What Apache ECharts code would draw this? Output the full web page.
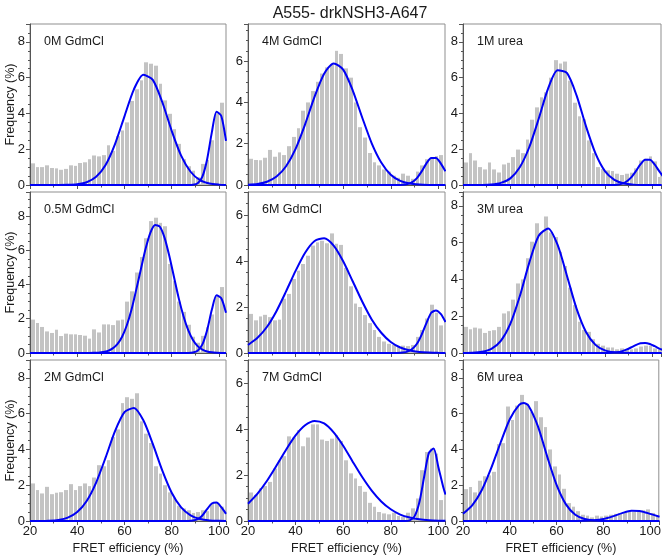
<!DOCTYPE html>
<html><head><meta charset="utf-8">
<script src="https://cdn.jsdelivr.net/npm/echarts@6/dist/echarts.min.js"></script>
<style>html,body{margin:0;padding:0;background:#fff}#c{width:664px;height:556px}</style>
</head><body><div id="c"></div>
<script>
// ---------------- DATA ----------------
const chartTitle = 'A555- drkNSH3-A647';
const xAxisName = 'FRET efficiency (%)';
const yAxisName = 'Frequency (%)';
const binWidth = 2;
const binLeft = [20,22,24,26,28,30,32,34,36,38,40,42,44,46,48,50,52,54,56,58,60,62,64,66,68,70,72,74,76,78,80,82,84,86,88,90,92,94,96,98,100,102];
const xTicks = [20,40,60,80,100];

const labels = ['0M GdmCl','4M GdmCl','1M urea','0.5M GdmCl','6M GdmCl','3M urea','2M GdmCl','7M GdmCl','6M urea'];
const yMaxes = [9, 7.8, 9, 9.4, 7, 8.75, 9, 7, 9];

const freq_0M_GdmCl = [1.21,1.0,1.0,1.1,0.95,0.93,0.85,0.9,1.1,1.07,1.23,1.27,1.44,1.65,1.6,1.67,2.22,1.9,2.73,3.05,3.5,4.7,5.35,5.85,6.86,6.78,6.67,5.66,4.73,3.98,3.12,2.3,1.44,1.05,0.8,0.43,1.18,1.4,2.5,4.0,4.6,2.1];
const freq_4M_GdmCl = [1.27,1.21,1.2,1.32,1.7,1.37,1.58,1.45,1.88,2.33,2.75,3.6,4.0,4.55,5.0,5.4,5.7,5.85,6.5,6.35,5.65,5.2,4.0,2.8,2.3,1.55,1.1,0.95,0.75,0.65,0.45,0.35,0.55,0.45,0.3,0.65,0.95,1.25,1.3,1.4,1.45,0.65];
const freq_1M_urea = [1.26,1.78,1.37,1.0,0.87,1.26,0.87,0.7,1.15,1.24,1.56,1.98,1.78,2.54,3.65,4.34,4.9,5.18,6.0,6.98,6.79,6.9,5.83,4.6,3.84,3.67,2.49,1.78,1.0,0.89,0.82,0.78,0.63,0.56,0.63,0.69,0.93,1.37,1.47,1.6,1.32,0.45];
const freq_05M_GdmCl = [1.95,1.75,1.52,1.26,1.17,1.36,0.99,1.13,1.09,1.09,1.05,1.01,0.84,1.38,1.2,1.67,1.67,1.63,1.9,1.95,3.0,3.6,4.7,5.6,6.7,7.7,7.9,7.6,7.4,5.2,4.2,3.0,2.4,1.65,0.95,0.6,1.0,1.5,2.25,3.3,3.85,2.4];
const freq_6M_GdmCl = [1.7,1.42,1.59,1.66,1.56,1.42,1.45,2.36,2.57,3.22,3.58,3.87,4.23,4.67,4.81,4.88,4.77,5.2,4.75,4.7,3.7,2.9,2.15,2.0,1.65,1.3,1.0,0.7,0.5,0.4,0.35,0.3,0.32,0.3,0.35,0.7,1.0,1.5,2.1,1.75,1.2,1.2];
const freq_3M_urea = [1.42,1.29,1.38,1.33,1.09,1.2,1.24,1.42,2.15,2.27,2.9,3.78,4.0,5.15,6.05,7.05,6.55,7.42,6.55,6.3,5.5,4.73,3.55,2.6,1.7,1.25,1.15,0.75,0.5,0.4,0.3,0.3,0.2,0.25,0.2,0.2,0.25,0.35,0.4,0.4,0.25,0.2];
const freq_2M_GdmCl = [2.1,1.73,1.54,1.91,1.5,1.58,1.61,1.73,2.06,1.73,1.95,2.1,1.95,2.43,3.12,3.06,3.4,4.69,5.12,6.59,6.92,6.83,7.14,5.57,4.88,4.36,3.06,2.65,2.0,1.6,1.3,0.85,0.7,0.6,0.45,0.5,0.6,0.55,0.95,1.0,0.8,0.4];
const freq_7M_GdmCl = [1.24,1.13,1.42,1.52,1.7,2.28,2.64,2.82,3.68,3.63,3.95,3.25,3.63,4.2,4.2,3.54,3.48,3.58,3.73,3.48,2.64,2.07,1.85,1.52,1.27,0.79,0.62,0.39,0.33,0.29,0.36,0.22,0.19,0.36,0.55,0.98,2.21,3.0,3.15,2.93,0.91,0.9];
const freq_6M_urea = [1.78,1.9,1.6,2.25,2.5,2.55,2.75,4.3,4.35,6.4,5.65,6.45,7.05,6.55,6.1,6.7,5.8,5.25,4.0,3.05,2.6,1.8,1.0,0.8,0.55,0.35,0.3,0.2,0.3,0.25,0.3,0.35,0.4,0.45,0.5,0.5,0.5,0.55,0.6,0.65,0.45,0.3];

// fitted curves as [FRET %, frequency %]
const fitA_0M_GdmCl = [[20,0],[24,0],[28,0],[32,0.002],[36,0.01],[40,0.043],[44,0.155],[48,0.46],[52,1.12],[56,2.29],[60,3.84],[64,5.35],[68,6.16],[72,5.88],[76,4.64],[80,3.03],[84,1.64],[88,0.74],[92,0.27],[96,0.084],[100,0.021],[103,0.005]];
const fitB_0M_GdmCl = [[20,0],[87,0.002],[89,0.016],[91,0.1],[93,0.47],[95,1.43],[97,2.94],[99,4.1],[101,3.86],[103,2.47]];
const fitA_4M_GdmCl = [[20,0.016],[24,0.054],[28,0.16],[32,0.41],[36,0.91],[40,1.75],[44,2.94],[48,4.28],[52,5.39],[56,5.89],[60,5.59],[64,4.59],[68,3.27],[72,2.02],[76,1.09],[80,0.5],[84,0.2],[88,0.071],[92,0.022],[96,0.006],[100,0.001],[103,0]];
const fitB_4M_GdmCl = [[20,0],[83,0.002],[85,0.011],[87,0.044],[89,0.137],[91,0.336],[93,0.66],[95,1.05],[97,1.31],[99,1.31],[101,1.05],[103,0.66]];
const fitA_1M_urea = [[20,0],[24,0.001],[28,0.006],[32,0.03],[36,0.12],[40,0.37],[44,0.99],[48,2.11],[52,3.7],[56,5.4],[60,6.41],[64,6.25],[68,5.01],[72,3.28],[76,1.77],[80,0.78],[84,0.29],[88,0.086],[92,0.021],[96,0.004],[100,0.001],[104,0]];
const fitB_1M_urea = [[20,0],[83,0.004],[85,0.019],[87,0.064],[89,0.18],[91,0.41],[93,0.76],[95,1.15],[97,1.41],[99,1.41],[101,1.15],[103,0.76],[105,0.4]];
const fitA_05M_GdmCl = [[20,0],[41,0],[43,0.001],[45,0.003],[47,0.008],[49,0.022],[51,0.054],[53,0.125],[55,0.27],[57,0.52],[59,0.95],[61,1.62],[63,2.54],[65,3.7],[67,4.92],[69,6.11],[71,7.03],[73,7.47],[75,7.37],[77,6.72],[79,5.66],[81,4.42],[83,3.19],[85,2.15],[87,1.33],[89,0.76],[91,0.4],[93,0.2],[95,0.09],[97,0.038],[99,0.015],[101,0.005],[103,0.002]];
const fitB_05M_GdmCl = [[20,0],[87,0.003],[89,0.024],[91,0.13],[93,0.5],[95,1.33],[97,2.52],[99,3.37],[101,3.2],[103,2.35]];
const fitA_6M_GdmCl = [[20,0.35],[24,0.66],[28,1.14],[32,1.83],[36,2.68],[40,3.57],[44,4.36],[48,4.87],[52,4.99],[56,4.67],[60,3.99],[64,3.12],[68,2.24],[72,1.46],[76,0.88],[80,0.48],[84,0.24],[88,0.11],[92,0.046],[96,0.018],[100,0.006],[103,0.003]];
const fitB_6M_GdmCl = [[20,0],[83,0.005],[85,0.02],[87,0.06],[89,0.17],[91,0.4],[93,0.8],[95,1.3],[97,1.75],[99,1.85],[101,1.7],[103,1.35]];
const fitA_3M_urea = [[20,0.003],[24,0.014],[28,0.063],[32,0.225],[36,0.66],[40,1.58],[44,3.08],[48,4.9],[52,6.37],[56,6.77],[60,5.87],[64,4.17],[68,2.41],[72,1.14],[76,0.44],[80,0.14],[84,0.036],[88,0.008],[92,0.001],[96,0],[104,0]];
const fitB_3M_urea = [[20,0],[79,0.001],[83,0.014],[85,0.039],[87,0.09],[89,0.18],[91,0.3],[93,0.43],[95,0.53],[97,0.55],[99,0.49],[101,0.37],[103,0.24],[105,0.14]];
const fitA_2M_GdmCl = [[20,0.001],[24,0.004],[28,0.018],[32,0.063],[36,0.19],[40,0.5],[44,1.12],[48,2.15],[52,3.54],[56,5.02],[60,6.08],[64,6.32],[68,5.63],[72,4.31],[76,2.83],[80,1.58],[84,0.76],[88,0.32],[92,0.11],[96,0.034],[100,0.009],[103,0.003]];
const fitB_2M_GdmCl = [[20,0],[87,0.005],[89,0.025],[91,0.1],[93,0.31],[95,0.66],[97,0.98],[99,1.03],[101,0.77],[103,0.4]];
const fitA_7M_GdmCl = [[20,0.75],[24,1.19],[28,1.75],[32,2.41],[36,3.1],[40,3.72],[44,4.16],[48,4.35],[52,4.24],[56,3.85],[60,3.27],[64,2.58],[68,1.91],[72,1.32],[76,0.85],[80,0.51],[84,0.28],[88,0.15],[92,0.073],[96,0.033],[100,0.014],[103,0.007]];
const fitB_7M_GdmCl = [[20,0],[86,0],[88,0.03],[90,0.2],[92,0.8],[94,1.9],[96,2.95],[98,3.15],[100,2.35],[102,1.5],[103,1.15]];
const fitA_6M_urea = [[20,0.4],[24,0.89],[28,1.72],[32,2.94],[36,4.36],[40,5.69],[44,6.49],[46,6.6],[48,6.44],[52,5.3],[56,3.6],[60,2.02],[64,0.93],[68,0.35],[72,0.11],[76,0.03],[80,0.006],[84,0],[104,0]];
const fitB_6M_urea = [[20,0],[68,0.002],[72,0.009],[76,0.04],[80,0.115],[84,0.26],[88,0.44],[92,0.57],[96,0.55],[100,0.4],[104,0.24]];

const freqs = [freq_0M_GdmCl, freq_4M_GdmCl, freq_1M_urea, freq_05M_GdmCl, freq_6M_GdmCl, freq_3M_urea, freq_2M_GdmCl, freq_7M_GdmCl, freq_6M_urea];
const fitsA = [fitA_0M_GdmCl, fitA_4M_GdmCl, fitA_1M_urea, fitA_05M_GdmCl, fitA_6M_GdmCl, fitA_3M_urea, fitA_2M_GdmCl, fitA_7M_GdmCl, fitA_6M_urea];
const fitsB = [fitB_0M_GdmCl, fitB_4M_GdmCl, fitB_1M_urea, fitB_05M_GdmCl, fitB_6M_GdmCl, fitB_3M_urea, fitB_2M_GdmCl, fitB_7M_GdmCl, fitB_6M_urea];

// ---------------- LAYOUT / STYLE ----------------
const FONT = '"Liberation Sans", Arial, Helvetica, sans-serif';
const TXT = '#1a1a1a';
const AX = '#555555';
const colLeft = [30, 248, 463];
const colWidth = [196, 197, 198];
const colXMax = [103, 102.8, 103.7];
const rowTop = [24, 192, 360];
const rowH = 161;

const grids = [], xAxes = [], yAxes = [], series = [];
const titles = [{
  text: chartTitle, left: 345, top: 1, textAlign: 'center',
  textStyle: {fontFamily: FONT, fontSize: 16, fontWeight: 'normal', color: TXT}
}];

function barRender(params, api) {
  const x0 = api.value(0), y = api.value(1);
  const p0 = api.coord([x0, y]);
  const p1 = api.coord([x0 + binWidth, 0]);
  const cs = params.coordSys;
  const xl = Math.round(p0[0]) + 1, xr = Math.round(p1[0]);
  const shape = echarts.graphic.clipRectByRect(
    {x: xl, y: p0[1], width: xr - xl, height: p1[1] - p0[1]},
    {x: cs.x, y: cs.y, width: cs.width, height: cs.height});
  return shape && {type: 'rect', shape: shape, style: {fill: '#c3c3c3'}};
}

for (let k = 0; k < 9; k++) {
  const r = Math.floor(k / 3), c = k % 3;
  grids.push({left: colLeft[c], top: rowTop[r], width: colWidth[c], height: rowH,
    show: true, borderColor: '#8f8f8f', borderWidth: 1, backgroundColor: 'transparent'});
  xAxes.push({
    gridIndex: k, type: 'value', min: 20, max: colXMax[c], interval: 20,
    axisLine: {show: true, onZero: false, lineStyle: {color: AX, width: 1}},
    axisTick: {show: true, length: 4, lineStyle: {color: AX}},
    minorTick: {show: true, splitNumber: 2, length: 2.5, lineStyle: {color: AX}},
    splitLine: {show: false},
    axisLabel: {show: r === 2, showMaxLabel: false, showMinLabel: true, margin: 4,
      fontFamily: FONT, fontSize: 13, color: TXT},
    name: r === 2 ? xAxisName : '', nameLocation: 'middle', nameGap: 21,
    nameTextStyle: {fontFamily: FONT, fontSize: 12.5, color: TXT}
  });
  yAxes.push({
    gridIndex: k, type: 'value', min: 0, max: yMaxes[k], interval: 2,
    axisLine: {show: true, onZero: false, lineStyle: {color: AX, width: 1}},
    axisTick: {show: true, length: 4, lineStyle: {color: AX}},
    minorTick: {show: true, splitNumber: 4, length: 2, lineStyle: {color: AX}},
    splitLine: {show: false},
    axisLabel: {showMaxLabel: false, margin: 5, fontFamily: FONT, fontSize: 13, color: TXT},
    name: c === 0 ? yAxisName : '', nameLocation: 'middle', nameGap: 13, nameRotate: 90,
    nameMoveOverlap: false,
    nameTextStyle: {fontFamily: FONT, fontSize: 12.5, color: TXT}
  });
  titles.push({text: labels[k], left: colLeft[c] + 9, top: rowTop[r] + 6,
    textStyle: {fontFamily: FONT, fontSize: 12.5, fontWeight: 'normal', color: TXT}});
  series.push({
    type: 'custom', xAxisIndex: k, yAxisIndex: k, renderItem: barRender,
    encode: {x: 0, y: 1}, z: 1, silent: true,
    data: binLeft.map((b, i) => [b, freqs[k][i]])
  });
  [fitsA[k], fitsB[k]].forEach(fit => series.push({
    type: 'line', xAxisIndex: k, yAxisIndex: k, data: fit, showSymbol: false,
    smooth: 0.25, clip: true, z: 3, silent: true,
    lineStyle: {color: '#0000f5', width: 2}
  }));
}

const chart = echarts.init(document.getElementById('c'), null, {renderer: 'canvas'});
chart.setOption({
  animation: false,
  backgroundColor: '#ffffff',
  title: titles, grid: grids, xAxis: xAxes, yAxis: yAxes, series: series
});
</script>
</body></html>
